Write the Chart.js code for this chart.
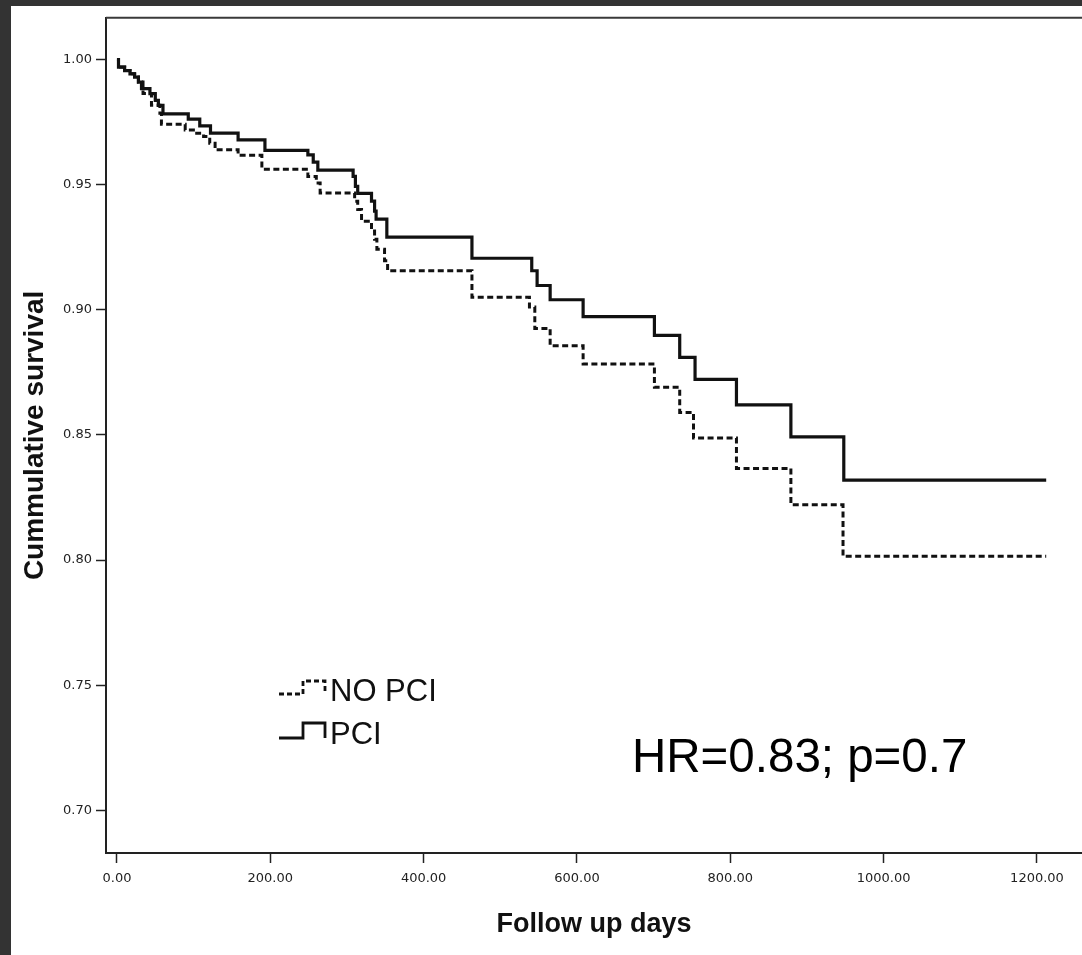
<!DOCTYPE html>
<html>
<head>
<meta charset="utf-8">
<title>Cumulative survival</title>
<script src="https://cdn.jsdelivr.net/npm/chart.js@4.4.1/dist/chart.umd.min.js"></script>
<style>
    html, body { margin: 0; padding: 0; }
    body { background: #333333; width: 1082px; height: 955px; overflow: hidden; position: relative; }
    #panel { position: absolute; left: 11px; top: 6px; width: 1071px; height: 949px; background: #ffffff; }
    #kmChart { display: block; }
</style>
</head>
<body>
<div id="panel">
    <canvas id="kmChart" width="1071" height="949"></canvas>
</div>
<script>
// tick labels
const xTicks = [0, 200, 400, 600, 800, 1000, 1200];
const yTicks = [0.70, 0.75, 0.80, 0.85, 0.90, 0.95, 1.00];

// PCI (solid) - day of each step and survival after it
const pciDays = [0, 2, 10, 17, 23, 28, 32, 43, 50, 54, 60, 93, 108, 122, 158, 193, 249, 256, 262,
    308, 311, 314, 332, 336, 338, 352, 463, 541, 548, 565, 608, 701, 734, 754, 808, 879, 948, 1212];
const pciSurv = [1.000, 0.997, 0.9956, 0.9943, 0.993, 0.991, 0.9884, 0.9864, 0.9837, 0.9817, 0.9783, 0.9762, 0.9735, 0.9706, 0.9679, 0.9637, 0.9619, 0.9590, 0.9558,
    0.9533, 0.9493, 0.9465, 0.9434, 0.9394, 0.9362, 0.9290, 0.9206, 0.9156, 0.9097, 0.9040, 0.8973, 0.8898, 0.8810, 0.8722, 0.8620, 0.8492, 0.8319, 0.8319];

// NO PCI (dashed)
const noPciDays = [0, 2, 10, 17, 23, 28, 34, 45, 56, 58, 89, 104, 113, 121, 128, 158, 189, 249, 260, 265,
    310, 314, 319, 332, 336, 339, 349, 353, 463, 538, 545, 565, 608, 701, 734, 752, 808, 879, 947, 1212];
const noPciSurv = [1.000, 0.997, 0.9956, 0.9943, 0.993, 0.991, 0.9864, 0.9817, 0.9785, 0.9741, 0.9718, 0.9705, 0.9692, 0.9665, 0.9639, 0.9617, 0.9562, 0.9533, 0.9507, 0.9467,
    0.9434, 0.9401, 0.9354, 0.9315, 0.9282, 0.9242, 0.9196, 0.9156, 0.9050, 0.9011, 0.8925, 0.8856, 0.8783, 0.8690, 0.8590, 0.8488, 0.8366, 0.8221, 0.8015, 0.8015];

const seriesNames = ['NO PCI', 'PCI'];
const statText = 'HR=0.83; p=0.7';

// page offset of the white panel (canvas origin)
const OX = 11, OY = 6;

function toPoints(days, surv) {
    return days.map(function (d, i) { return { x: d, y: surv[i] }; });
}

// top frame line, legend with step symbols, HR annotation
const extrasPlugin = {
    id: 'extras',
    afterDraw: function (chart) {
        const ctx = chart.ctx;
        const area = chart.chartArea;
        ctx.save();

        // top border of the plot box
        ctx.strokeStyle = '#3a3a3a';
        ctx.lineWidth = 2;
        ctx.beginPath();
        ctx.moveTo(area.left, area.top);
        ctx.lineTo(area.right, area.top);
        ctx.stroke();

        // legend
        const rows = [
            { label: seriesNames[0], dash: [5, 3], low: 694, high: 681, text: 692 },
            { label: seriesNames[1], dash: [], low: 738, high: 723, text: 735 }
        ];
        rows.forEach(function (r) {
            ctx.strokeStyle = '#111';
            ctx.lineWidth = 2.8;
            ctx.setLineDash(r.dash);
            ctx.beginPath();
            ctx.moveTo(279 - OX, r.low - OY);
            ctx.lineTo(303 - OX, r.low - OY);
            ctx.lineTo(303 - OX, r.high - OY);
            ctx.lineTo(325 - OX, r.high - OY);
            ctx.lineTo(325 - OX, r.low - OY);
            ctx.stroke();
            ctx.setLineDash([]);
            ctx.fillStyle = '#111';
            ctx.font = '31px "Liberation Sans", Arial, sans-serif';
            ctx.textBaseline = 'middle';
            ctx.textAlign = 'left';
            ctx.fillText(r.label, 330 - OX, r.text - OY);
        });

        // HR / p annotation
        ctx.fillStyle = '#000';
        ctx.font = '47.5px "Liberation Sans", Arial, sans-serif';
        ctx.textBaseline = 'alphabetic';
        ctx.fillText(statText, 632 - OX, 772 - OY);

        ctx.restore();
    }
};

const ctx = document.getElementById('kmChart').getContext('2d');
new Chart(ctx, {
    type: 'line',
    data: {
        datasets: [
            {
                label: seriesNames[0],
                data: toPoints(noPciDays, noPciSurv),
                stepped: 'before',
                borderColor: '#111111',
                borderWidth: 3,
                borderDash: [6, 3.5],
                pointRadius: 0,
                fill: false
            },
            {
                label: seriesNames[1],
                data: toPoints(pciDays, pciSurv),
                stepped: 'before',
                borderColor: '#111111',
                borderWidth: 3.2,
                pointRadius: 0,
                fill: false
            }
        ]
    },
    options: {
        responsive: false,
        animation: false,
        devicePixelRatio: 1,
        layout: { padding: { top: 6, right: 0, left: 0, bottom: 0 } },
        plugins: {
            legend: { display: false },
            tooltip: { enabled: false }
        },
        scales: {
            x: {
                type: 'linear',
                min: -14.3,
                max: 1258.7,
                afterFit: function (scale) { scale.height = 102; },
                afterBuildTicks: function (scale) {
                    scale.ticks = xTicks.map(function (v) { return { value: v }; });
                },
                border: { display: true, color: '#222', width: 2 },
                grid: { drawOnChartArea: false, drawTicks: true, tickLength: 10, tickColor: '#222', tickWidth: 1.5 },
                ticks: {
                    color: '#222',
                    padding: 8,
                    maxRotation: 0,
                    font: { family: 'DejaVu Sans', size: 13 },
                    callback: function (v) { return Number(v).toFixed(2); }
                },
                title: {
                    display: true,
                    text: 'Follow up days',
                    color: '#111',
                    font: { family: 'Liberation Sans', size: 27, weight: 'bold' },
                    padding: { top: 0, bottom: 14 }
                }
            },
            y: {
                type: 'linear',
                min: 0.68294,
                max: 1.01667,
                afterFit: function (scale) { scale.width = 95; },
                afterBuildTicks: function (scale) {
                    scale.ticks = yTicks.map(function (v) { return { value: v }; });
                },
                border: { display: true, color: '#222', width: 2 },
                grid: { drawOnChartArea: false, drawTicks: true, tickLength: 10, tickColor: '#222', tickWidth: 1.5 },
                ticks: {
                    color: '#222',
                    padding: 4,
                    font: { family: 'DejaVu Sans', size: 13 },
                    callback: function (v) { return Number(v).toFixed(2); }
                },
                title: {
                    display: true,
                    text: 'Cummulative survival',
                    color: '#111',
                    font: { family: 'Liberation Sans', size: 28, weight: 'bold' },
                    padding: { top: 7, bottom: 0 }
                }
            }
        }
    },
    plugins: [extrasPlugin]
});
</script>
</body>
</html>
